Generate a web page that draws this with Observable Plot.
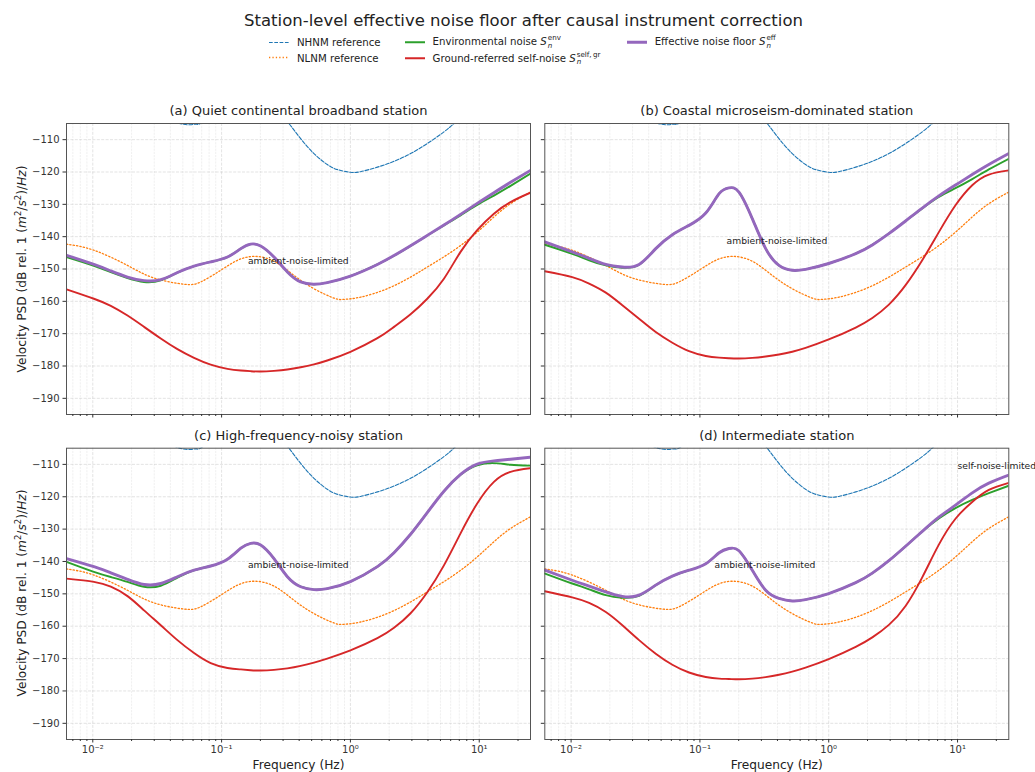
<!DOCTYPE html>
<html>
<head>
<meta charset="utf-8">
<script src="https://cdn.jsdelivr.net/npm/d3@7"></script>
<script src="https://cdn.jsdelivr.net/npm/@observablehq/plot@0.6"></script>
<style>
  body { margin: 0; background: #fff; font-family: "DejaVu Sans", sans-serif; color: #222; }
  #fig { position: relative; width: 1035px; height: 772px; overflow: hidden; background: #fff; }
  .abs { position: absolute; white-space: nowrap; }
  .title { font-size: 16.5px; transform: translate(-50%, -50%); }
  .ylab { font-size: 12.2px; transform: translate(-50%, -50%) rotate(-90deg); }
  .leg { font-size: 10.2px; display: flex; align-items: center; transform: translateY(-50%); }
  .leg svg { margin-right: 8px; flex: none; }
  .ms { display: inline-flex; flex-direction: column; font-size: 70%; line-height: 1.08; vertical-align: middle; margin-left: 1px; }
  .ms .sup { font-style: normal; }
  .ms .sub { font-style: italic; }
  sup.sq { font-size: 70%; }
</style>
</head>
<body>
<div id="fig"></div>
<script>
// Frequency grid (Hz) shared by the station curves
const freq = [0.00625, 0.0102, 0.0138, 0.0186, 0.025, 0.0337, 0.0454, 0.0611, 0.0823, 0.111,
              0.141, 0.168, 0.201, 0.255, 0.324, 0.411, 0.521, 0.661, 1.0, 1.62,
              2.18, 2.93, 3.95, 5.32, 7.16, 9.64, 13.0, 17.5, 25];

// Peterson-style reference models (velocity PSD, dB)
const nhnmFreq = [0.00625, 0.01, 0.02, 0.035, 0.045, 0.05, 0.057, 0.064, 0.07, 0.1, 0.15, 0.22, 0.3, 0.333,
                  0.411, 0.521, 0.661, 0.8, 1.0, 1.2, 1.62, 2.18, 2.93, 3.95, 5.32, 6.36, 8, 12, 25];
const nhnmPsd  = [-95, -97, -100, -103, -104.7, -105.2, -105.4, -105.2, -104.8, -101, -99, -100, -103.5, -105,
                  -109.7, -114.3, -117.7, -119.3, -120.1, -119.9, -118.5, -116.7, -114.3, -111.2, -107.6, -105, -101.5, -96, -88];
const nlnmFreq = [0.00625, 0.0102, 0.0186, 0.0299, 0.0511, 0.0689, 0.0984, 0.133, 0.179, 0.255, 0.365,
                  0.521, 0.745, 0.891, 1.2, 1.93, 2.93, 3.95, 6.36, 9.64, 13.0, 17.5, 25];
const nlnmPsd  = [-142.3, -144.2, -148.9, -152.8, -154.7, -154.0, -150.4, -147.3, -146.1, -147.6, -152.0,
                  -156.1, -159.0, -159.4, -158.7, -156.1, -152.5, -149.4, -144.2, -138.6, -133.9, -129.8, -126.2];

// (a) Quiet continental broadband station
const envA  = [-146.3, -149.0, -151.0, -152.8, -154.0, -153.5, -151.1, -149.1, -147.8, -146.3, -143.7, -142.3, -142.9, -146.3, -150.9,
               -154.0, -154.7, -154.2, -152.2, -148.6, -145.9, -142.85, -139.65, -136.5, -133.4, -130.2, -127.3, -124.3, -120.5];
const selfA = [-156.3, -159.2, -161.4, -164.4, -167.9, -171.5, -174.8, -177.5, -179.6, -180.9, -181.4, -181.6, -181.7, -181.5, -181.1,
               -180.4, -179.5, -178.3, -175.6, -171.4, -167.9, -164.0, -159.2, -153.0, -144.7, -138.0, -132.9, -129.3, -126.4];
const effA  = [-145.8, -148.6, -150.6, -152.5, -153.6, -153.3, -151.1, -149.1, -147.8, -146.3, -143.7, -142.3, -142.9, -146.3, -150.9,
               -154.0, -154.7, -154.2, -152.2, -148.6, -145.85, -142.8, -139.6, -136.4, -133.1, -129.7, -126.4, -123.2, -119.5];

// (b) Coastal microseism-dominated station
const envB  = [-142.5, -145.3, -147.3, -148.9, -149.6, -148.7, -143.7, -139.4, -136.5, -132.7, -126.7, -124.9, -126.2, -134.4, -143.7,
               -148.9, -150.4, -150.1, -148.3, -145.25, -142.55, -139.05, -135.15, -131.25, -127.7, -125.0, -122.2, -119.2, -115.9];
const selfB = [-150.7, -152.5, -154.5, -157.3, -161.2, -165.4, -169.5, -172.8, -175.4, -176.9, -177.4, -177.6, -177.7, -177.5, -177.08,
               -176.46, -175.58, -174.4, -171.8, -168.1, -165.15, -161.0, -155.0, -147.3, -138.6, -130.3, -124.1, -120.8, -119.5];
const effB  = [-141.6, -144.7, -146.7, -148.6, -149.4, -148.6, -143.7, -139.4, -136.5, -132.7, -126.7, -124.9, -126.2, -134.4, -143.7,
               -148.9, -150.4, -150.1, -148.3, -145.25, -142.55, -139.05, -135.15, -131.15, -127.4, -124.05, -120.8, -117.7, -114.3];

// (c) High-frequency-noisy station
const envC  = [-140.1, -143.2, -144.8, -146.3, -147.8, -147.5, -145.0, -142.7, -141.4, -139.3, -135.9, -134.4, -134.9, -139.1, -144.7,
               -147.8, -148.7, -148.4, -146.2, -141.6, -137.3, -131.6, -124.9, -118.3, -113.2, -110.3, -109.6, -110.1, -110.4];
const selfC = [-145.3, -146.3, -147.8, -150.7, -155.1, -159.7, -164.3, -168.3, -171.4, -172.9, -173.35, -173.6, -173.7, -173.5, -173.03,
               -172.26, -171.23, -169.99, -167.47, -163.7, -160.5, -156.0, -149.5, -141.2, -131.3, -122.1, -115.4, -112.3, -111.2];
const effC  = [-139.1, -141.6, -143.5, -145.5, -147.1, -146.8, -144.7, -142.7, -141.4, -139.3, -135.9, -134.4, -134.9, -139.1, -144.7,
               -147.8, -148.7, -148.4, -146.2, -141.6, -137.3, -131.6, -124.9, -118.3, -113.1, -109.9, -108.9, -108.4, -107.8];

// (d) Intermediate station
const envD  = [-143.7, -146.8, -148.6, -150.4, -151.2, -150.6, -147.3, -144.5, -142.7, -140.7, -137.3, -136.0, -136.7, -142.7, -148.9,
               -151.4, -152.2, -151.8, -149.9, -146.55, -143.6, -139.75, -135.3, -130.75, -126.7, -123.5, -121.0, -118.9, -116.6];
const selfD = [-149.2, -151.1, -152.8, -155.6, -159.7, -164.3, -168.5, -171.9, -174.3, -175.7, -176.2, -176.3, -176.4, -176.2, -175.73,
               -175.01, -174.03, -172.79, -170.18, -166.4, -163.46, -159.59, -153.74, -144.9, -134.8, -126.8, -121.6, -117.9, -115.7];
const effD  = [-142.7, -145.8, -147.6, -149.4, -150.8, -150.4, -147.3, -144.5, -142.7, -140.7, -137.3, -136.0, -136.7, -142.7, -148.9,
               -151.4, -152.2, -151.8, -149.9, -146.55, -143.6, -139.75, -135.3, -130.7, -126.3, -122.6, -118.8, -115.8, -113.3];

const panelTitles = ["(a) Quiet continental broadband station", "(b) Coastal microseism-dominated station",
                     "(c) High-frequency-noisy station", "(d) Intermediate station"];
const notesA = [{f: 0.16, v: -147.5, text: "ambient-noise-limited"}];
const notesB = [{f: 0.161, v: -141.5, text: "ambient-noise-limited"}];
const notesC = [{f: 0.16, v: -141.2, text: "ambient-noise-limited"}];
const notesD = [{f: 0.13, v: -141.0, text: "ambient-noise-limited"}, {f: 10, v: -110.5, text: "self-noise-limited"}];

const xMajor = [0.01, 0.1, 1, 10];
const xMajorLabels = ["10\u207B\u00B2", "10\u207B\u00B9", "10\u2070", "10\u00B9"];
const xMinor = [0.007, 0.008, 0.009, 0.02, 0.03, 0.04, 0.05, 0.06, 0.07, 0.08, 0.09,
                0.2, 0.3, 0.4, 0.5, 0.6, 0.7, 0.8, 0.9, 2, 3, 4, 5, 6, 7, 8, 9, 20];
const yTicks = [-190, -180, -170, -160, -150, -140, -130, -120, -110];

const colors = {nhnm: "#1f77b4", nlnm: "#ff7f0e", env: "#2ca02c", self: "#d62728", eff: "#9467bd"};

const fig = document.getElementById("fig");
const rows = (fs, vs) => fs.map((f, i) => ({f, v: vs[i]}));
const minus = d => (d < 0 ? "\u2212" : "") + Math.abs(d);

function panel({title, env, self, eff, notes, left, top, width, height, mL, mR, mT, mB, xLabels, yLabels}) {
  const gridMajor = {stroke: "#b0b0b0", strokeOpacity: 0.45, strokeWidth: 0.8, strokeDasharray: "3,1.4"};
  const gridMinor = {stroke: "#b0b0b0", strokeOpacity: 0.32, strokeWidth: 0.6, strokeDasharray: "2.2,1"};
  const curve = "natural";
  const marks = [
    Plot.gridX(xMinor, gridMinor),
    Plot.gridX(xMajor, gridMajor),
    Plot.gridY(yTicks, gridMajor),
    Plot.line(rows(nhnmFreq, nhnmPsd), {x: "f", y: "v", stroke: colors.nhnm, strokeWidth: 1.1, strokeDasharray: "3.7,1.6", curve, clip: true}),
    Plot.line(rows(nlnmFreq, nlnmPsd), {x: "f", y: "v", stroke: colors.nlnm, strokeWidth: 1.3, strokeDasharray: "1.3,2.1", curve, clip: true}),
    Plot.line(rows(freq, env), {x: "f", y: "v", stroke: colors.env, strokeWidth: 1.9, curve, clip: true}),
    Plot.line(rows(freq, self), {x: "f", y: "v", stroke: colors.self, strokeWidth: 1.9, curve, clip: true}),
    Plot.line(rows(freq, eff), {x: "f", y: "v", stroke: colors.eff, strokeWidth: 2.9, curve, clip: true}),
    Plot.text(notes, {x: "f", y: "v", text: "text", textAnchor: "start", lineAnchor: "middle", fontSize: 9.2, fill: "#222"}),
    Plot.frame({stroke: "#555", strokeWidth: 1}),
    Plot.axisX(xMajor, {tickSize: 3.5, tickPadding: 3, label: null, color: "#333",
      tickFormat: xLabels ? (d => xMajorLabels[xMajor.indexOf(d)]) : (() => "")}),
    Plot.axisX(xMinor, {tickSize: 2, label: null, color: "#333", tickFormat: () => ""}),
    Plot.axisY(yTicks, {tickSize: 3.5, tickPadding: 3.5, label: null, color: "#333",
      tickFormat: yLabels ? minus : (() => "")}),
    Plot.text([title], {frameAnchor: "top", lineAnchor: "middle", dy: -12.8, text: d => d, fontSize: 13, fill: "#222"})
  ];
  if (xLabels) {
    marks.push(Plot.text(["Frequency (Hz)"], {frameAnchor: "bottom", lineAnchor: "middle", dy: 26, text: d => d, fontSize: 12.2, fill: "#222"}));
  }
  const svg = Plot.plot({
    width, height,
    marginLeft: mL, marginRight: mR, marginTop: mT, marginBottom: mB,
    style: {fontFamily: "DejaVu Sans, sans-serif", fontSize: "10px", background: "transparent", overflow: "visible", color: "#222"},
    x: {type: "log", domain: [0.00625, 25], label: null},
    y: {domain: [-195, -105], label: null},
    marks
  });
  svg.style.position = "absolute";
  svg.style.left = left + "px";
  svg.style.top = top + "px";
  svg.style.maxWidth = "none";
  fig.appendChild(svg);
}

const leftCol = {left: 0, width: 537, mL: 66, mR: 7};
const rightCol = {left: 537, width: 498, mL: 7.3, mR: 26.7};
const topRow = {top: 90, height: 330, mT: 33, mB: 6};
const botRow = {top: 420, height: 352, mT: 27.7, mB: 33};

panel({title: panelTitles[0], env: envA, self: selfA, eff: effA, notes: notesA, ...leftCol, ...topRow, xLabels: false, yLabels: true});
panel({title: panelTitles[1], env: envB, self: selfB, eff: effB, notes: notesB, ...rightCol, ...topRow, xLabels: false, yLabels: false});
panel({title: panelTitles[2], env: envC, self: selfC, eff: effC, notes: notesC, ...leftCol, ...botRow, xLabels: true, yLabels: true});
panel({title: panelTitles[3], env: envD, self: selfD, eff: effD, notes: notesD, ...rightCol, ...botRow, xLabels: true, yLabels: false});

// Figure title
const t = document.createElement("div");
t.className = "abs title";
t.style.left = "523.5px"; t.style.top = "20px";
t.textContent = "Station-level effective noise floor after causal instrument correction";
fig.appendChild(t);

// Shared y-axis labels for the left column
const ylabHTML = 'Velocity PSD (dB rel. 1 (<i>m</i><sup class="sq">2</sup>/<i>s</i><sup class="sq">2</sup>)/<i>Hz</i>)';
[268.5, 593.3].forEach(cy => {
  const d = document.createElement("div");
  d.className = "abs ylab";
  d.style.left = "20.5px"; d.style.top = cy + "px";
  d.innerHTML = ylabHTML;
  fig.appendChild(d);
});

// Legend
const sym = (sup) => `<i>S</i><span class="ms"><span class="sup">${sup}</span><span class="sub">n</span></span>`;
const legendItems = [
  {x: 269, y: 42.2, color: colors.nhnm, width: 1.1, dash: "3.7,1.6", label: "NHNM reference"},
  {x: 269, y: 57.7, color: colors.nlnm, width: 1.3, dash: "1.3,2.1", label: "NLNM reference"},
  {x: 404.6, y: 42.2, color: colors.env, width: 1.9, dash: null, label: "Environmental noise " + sym("env")},
  {x: 404.6, y: 58.5, color: colors.self, width: 1.9, dash: null, label: "Ground-referred self-noise " + sym("self,&thinsp;gr")},
  {x: 626.7, y: 42.2, color: colors.eff, width: 2.9, dash: null, label: "Effective noise floor " + sym("eff")}
];
legendItems.forEach(it => {
  const d = document.createElement("div");
  d.className = "abs leg";
  d.style.left = it.x + "px"; d.style.top = it.y + "px";
  d.innerHTML = `<svg width="20" height="10"><line x1="0" x2="20" y1="5" y2="5" stroke="${it.color}" stroke-width="${it.width}" ${it.dash ? `stroke-dasharray="${it.dash}"` : ""}/></svg><span>${it.label}</span>`;
  fig.appendChild(d);
});
</script>
</body>
</html>
